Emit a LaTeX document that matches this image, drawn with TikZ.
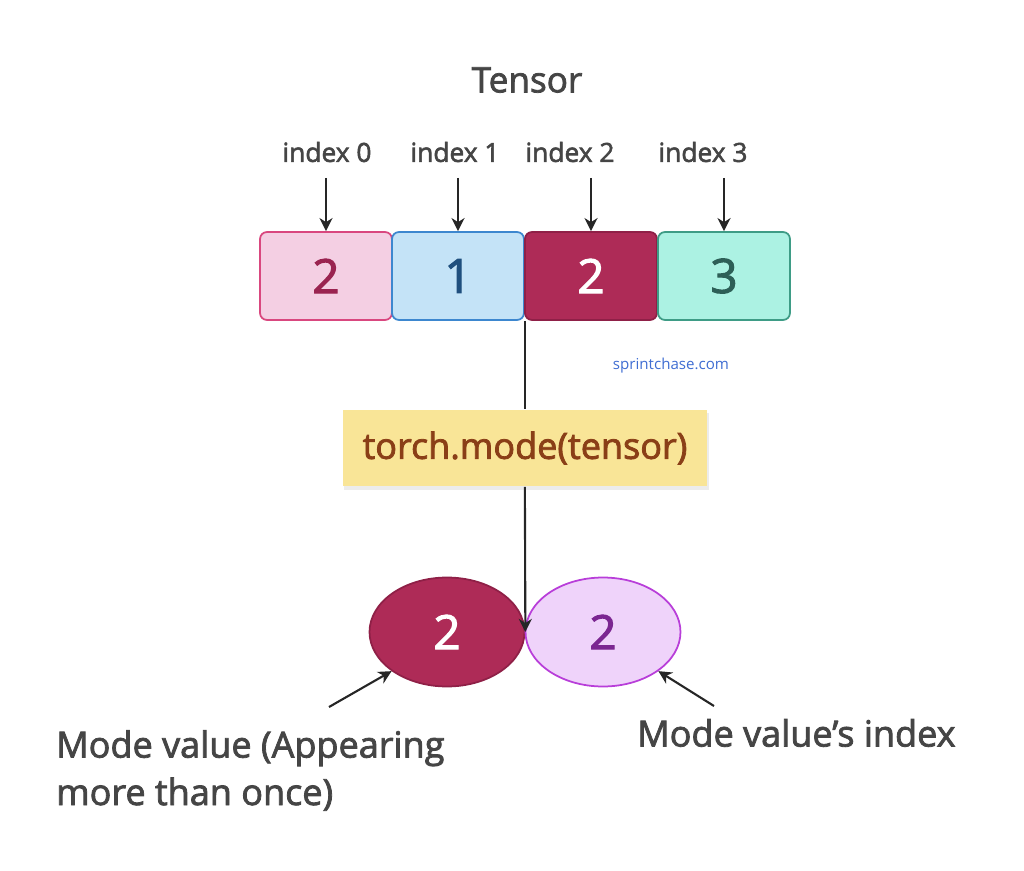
\documentclass[tikz,border=0pt]{standalone}
\usepackage{fontspec}
\setmainfont{Open Sans}
\newfontfamily\semi[FakeBold=2.2]{Open Sans}
\usetikzlibrary{shapes.geometric,shadows,arrows.meta}

\definecolor{pinkfill}{HTML}{F4CFE3}
\definecolor{pinkdraw}{HTML}{D9477F}
\definecolor{pinktext}{HTML}{9A2350}
\definecolor{bluefill}{HTML}{C4E3F7}
\definecolor{bluedraw}{HTML}{3D87CF}
\definecolor{bluetext}{HTML}{1F4F7E}
\definecolor{berryfill}{HTML}{AE2B57}
\definecolor{berrydraw}{HTML}{8F2047}
\definecolor{mintfill}{HTML}{ACF2E3}
\definecolor{mintdraw}{HTML}{3E9C86}
\definecolor{minttext}{HTML}{2D5F57}
\definecolor{sandfill}{HTML}{F9E597}
\definecolor{sandtext}{HTML}{8A3F17}
\definecolor{lilacfill}{HTML}{EFD3FA}
\definecolor{lilacdraw}{HTML}{B83ED9}
\definecolor{lilactext}{HTML}{7B2691}
\definecolor{labelgray}{HTML}{454545}
\definecolor{linkblue}{HTML}{3F6DD2}

\tikzset{
	cell/.style={draw, rectangle, rounded corners=4pt, line width=1pt, minimum width=2.64cm, minimum height=1.76cm, font=\semi\fontsize{27}{30}\selectfont},
	blob/.style={draw, ellipse, line width=1pt, minimum width=3.1cm, minimum height=2.18cm, font=\semi\fontsize{27}{30}\selectfont},
	idx/.style={text=labelgray, font=\semi\fontsize{15}{18}\selectfont},
	note/.style={text=labelgray, font=\semi\fontsize{20.5}{27}\selectfont},
	arr/.style={->, >={Stealth[length=7.5pt,width=7.5pt]}, line width=1.2pt, black!85},
	link/.style={line width=1.2pt, black!85}
}

\begin{document}
\begin{tikzpicture}[x=0.02cm, y=-0.02cm]
				\useasboundingbox (0,0) rectangle (1024,871);
				\node[text=labelgray, font=\semi\fontsize{20}{24}\selectfont] (title) at (527, 80) {Tensor};
				\node[idx] (i0) at (327, 152) {index 0};
				\node[idx] (i1) at (455, 152) {index 1};
				\node[idx] (i2) at (570, 152) {index 2};
				\node[idx] (i3) at (703, 152) {index 3};
				\node[cell, fill=pinkfill, draw=pinkdraw, text=pinktext] (b0) at (326, 276) {2};
				\node[cell, fill=bluefill, draw=bluedraw, text=bluetext] (b1) at (458, 276) {1};
				\node[cell, fill=berryfill, draw=berrydraw, text=white] (b2) at (591, 276) {2};
				\node[cell, fill=mintfill, draw=mintdraw, text=minttext] (b3) at (724, 276) {3};
				\node[text=linkblue, font=\fontsize{8.6}{10}\selectfont] (site) at (671, 366) {sprintchase.com};
				\node[rectangle, fill=sandfill, text=sandtext, minimum width=7.3cm, minimum height=1.54cm, drop shadow={shadow xshift=1pt, shadow yshift=-2pt, opacity=0.15}, font=\semi\fontsize{20.5}{24}\selectfont] (mode) at (525, 448) {torch.mode(tensor)};
				\node[blob, fill=berryfill, draw=berrydraw, text=white] (e0) at (447, 632) {2};
				\node[blob, fill=lilacfill, draw=lilacdraw, text=lilactext] (e1) at (603, 632) {2};
				\node[note, align=left, anchor=north west] (n0) at (50, 724) {Mode value (Appearing\\more than once)};
				\node[note, anchor=west] (n1) at (631, 733) {Mode value’s index};
				\coordinate (p0) at (329, 707);
				\coordinate (p1) at (714, 706);
				\draw[arr] (b0.north |- 0,178) -- (b0.north);
				\draw[arr] (b1.north |- 0,178) -- (b1.north);
				\draw[arr] (b2.north |- 0,178) -- (b2.north);
				\draw[arr] (b3.north |- 0,178) -- (b3.north);
				\draw[link] (b1.south east) -- (b1.south east |- mode.north);
				\draw[arr] (b1.south east |- mode.south) -- (e0.east);
				\draw[arr] (p0) -- (e0.south west);
				\draw[arr] (p1) -- (e1.south east);
			\end{tikzpicture}
\end{document}
